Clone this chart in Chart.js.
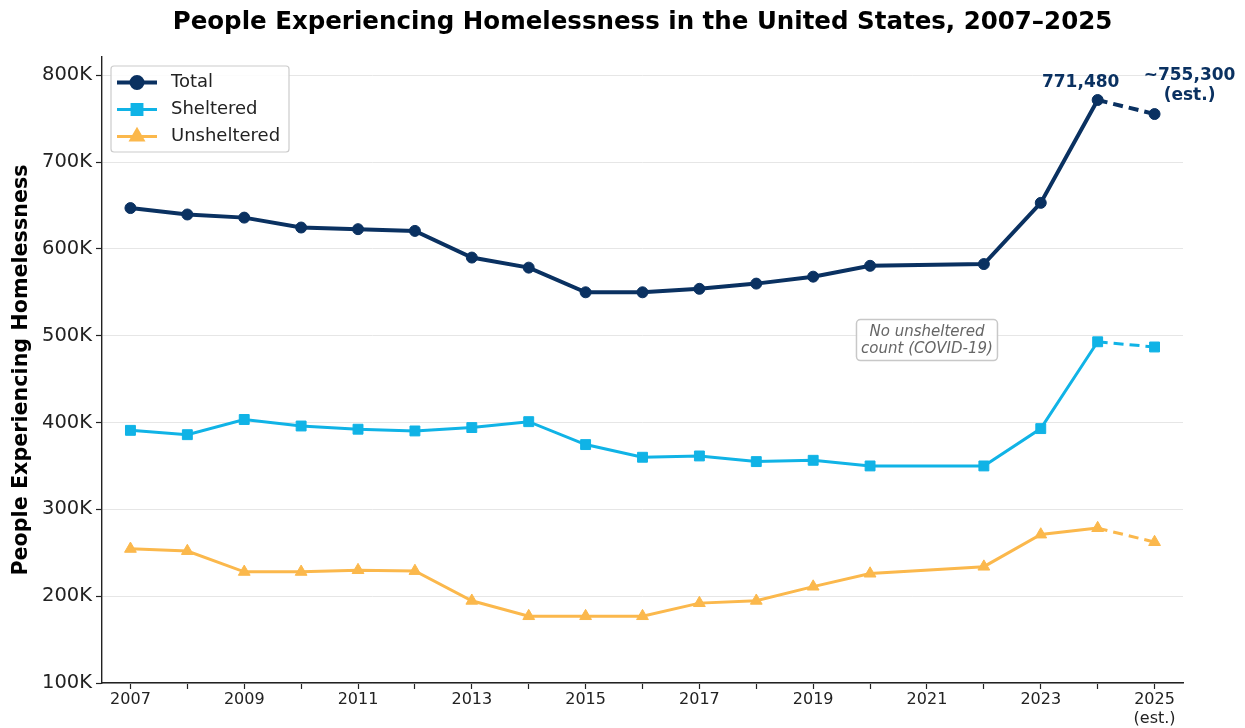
<!DOCTYPE html>
<html>
<head>
<meta charset="utf-8">
<script src="https://cdn.jsdelivr.net/npm/chart.js@4/dist/chart.umd.min.js"></script>
<style>
  html, body { margin: 0; padding: 0; background: #fff; }
  #wrap { width: 1245px; height: 728px; }
</style>
</head>
<body>
<div id="wrap"><canvas id="chart" width="1245" height="728"></canvas></div>
<script>
// dados (2021 sem contagem)
const years = ['2007', '2008', '2009', '2010', '2011', '2012', '2013', '2014', '2015', '2016',
  '2017', '2018', '2019', '2020', '2021', '2022', '2023', '2024', '2025'];
const totalValues = [647000, 639600, 636000, 624600, 622700, 620700, 590000, 578400, 550000, 550000,
  554000, 560000, 568000, 580500, null, 582500, 653000, 771480, 755300];
const shelteredValues = [391000, 386000, 403500, 396000, 392300, 390300, 394200, 401000, 374600, 360000,
  361500, 355000, 356500, 350000, null, 350000, 393000, 493000, 487000];
const unshelteredValues = [254500, 252000, 228000, 228000, 230000, 229000, 194700, 177000, 177000, 177000,
  192000, 194700, 211000, 226000, null, 234000, 271000, 278400, 262300];
const yTicks = [100000, 200000, 300000, 400000, 500000, 600000, 700000, 800000];

const FONT = "'DejaVu Sans', sans-serif";
const NAVY = '#0a3161';
const BLUE = '#10b3e6';
const ORANGE = '#fbb84c';
const EST_INDEX = 17; // segmento 2024 -> 2025 tracejado

function dashed(ctx) {
  return ctx.p0DataIndex === EST_INDEX ? [10, 6] : undefined;
}

function makeSeries(label, data, color, style, radius, width) {
  return {
    label,
    data,
    borderColor: color,
    backgroundColor: color,
    borderWidth: width,
    pointStyle: style,
    pointRadius: radius,
    pointHoverRadius: radius,
    pointBorderWidth: 1,
    pointBackgroundColor: color,
    pointBorderColor: color,
    spanGaps: true,
    tension: 0,
    segment: { borderDash: dashed },
  };
}

const overlay = {
  id: 'overlay',
  afterDraw(chart) {
    const { ctx } = chart;
    const x = chart.scales.x;
    const y = chart.scales.y;

    // anotação COVID
    const cx = x.getPixelForValue(14);
    const cy = y.getPixelForValue(495000);
    ctx.save();
    ctx.font = 'italic 15px ' + FONT;
    const w = 141, h = 41;
    ctx.beginPath();
    ctx.roundRect(cx - w / 2, cy - h / 2, w, h, 4);
    ctx.fillStyle = 'rgba(255,255,255,0.9)';
    ctx.fill();
    ctx.strokeStyle = '#c8c8c8';
    ctx.lineWidth = 1.5;
    ctx.stroke();
    ctx.fillStyle = '#666';
    ctx.textAlign = 'center';
    ctx.textBaseline = 'middle';
    ctx.fillText('No unsheltered', cx, cy - 8);
    ctx.fillText('count (COVID-19)', cx, cy + 9);
    ctx.restore();

    // rótulos dos valores finais
    const pts = chart.getDatasetMeta(0).data;
    const p24 = pts[EST_INDEX];
    const p25 = pts[EST_INDEX + 1];
    ctx.save();
    ctx.font = 'bold 17px ' + FONT;
    ctx.fillStyle = NAVY;
    ctx.textAlign = 'center';
    ctx.textBaseline = 'middle';
    ctx.fillText('771,480', p24.x - 17, p24.y - 17);
    ctx.fillText('~755,300', p25.x + 35, p25.y - 38);
    ctx.fillText('(est.)', p25.x + 35, p25.y - 18);
    ctx.restore();

    // legenda
    const area = chart.chartArea;
    const lx = area.left + 9, ly = area.top + 9;
    ctx.save();
    ctx.beginPath();
    ctx.roundRect(lx, ly, 178, 86, 3);
    ctx.fillStyle = 'rgba(255,255,255,0.85)';
    ctx.fill();
    ctx.strokeStyle = '#cccccc';
    ctx.lineWidth = 1.2;
    ctx.stroke();
    chart.data.datasets.forEach((ds, i) => {
      const rowY = ly + 16.5 + i * 27;
      ctx.beginPath();
      ctx.moveTo(lx + 6, rowY);
      ctx.lineTo(lx + 46, rowY);
      ctx.strokeStyle = ds.borderColor;
      ctx.lineWidth = ds.borderWidth;
      ctx.stroke();
      ctx.fillStyle = ds.borderColor;
      Chart.helpers.drawPoint(ctx, {
        pointStyle: ds.pointStyle,
        radius: ds.pointRadius,
        borderWidth: 1,
      }, lx + 26, rowY);
      ctx.fill();
      ctx.fillStyle = '#222';
      ctx.font = '18px ' + FONT;
      ctx.textAlign = 'left';
      ctx.textBaseline = 'middle';
      ctx.fillText(ds.label, lx + 60, rowY);
    });
    ctx.restore();
  },
};

new Chart(document.getElementById('chart'), {
  type: 'line',
  data: {
    labels: years,
    datasets: [
      makeSeries('Total', totalValues, NAVY, 'circle', 5.5, 4),
      makeSeries('Sheltered', shelteredValues, BLUE, 'rect', 7, 3),
      makeSeries('Unsheltered', unshelteredValues, ORANGE, 'triangle', 6.8, 3),
    ],
  },
  options: {
    responsive: false,
    animation: false,
    layout: { padding: { left: 0, right: 62, top: 0, bottom: 0 } },
    plugins: {
      legend: { display: false },
      tooltip: { enabled: false },
      title: {
        display: true,
        fullSize: false, // centraliza sobre a área do gráfico
        text: 'People Experiencing Homelessness in the United States, 2007–2025',
        color: '#000',
        font: { family: FONT, size: 24.5, weight: 'bold', lineHeight: 1.2 },
        padding: { top: 8, bottom: 19.6 },
      },
    },
    scales: {
      x: {
        type: 'category',
        offset: true,
        afterFit(scale) { scale.height = 45; },
        grid: {
          offset: false,
          drawOnChartArea: false,
          drawTicks: true,
          tickLength: 6,
          tickColor: '#222',
          tickWidth: 1.2,
        },
        border: { color: '#222', width: 1.4 },
        ticks: {
          autoSkip: false,
          maxRotation: 0,
          padding: 2,
          color: '#222',
          font: { family: FONT, size: 16, lineHeight: 1.15 },
          callback(value, index) {
            const yr = Number(years[index]);
            if (yr === 2025) return ['2025', '(est.)'];
            return yr % 2 === 1 ? String(yr) : '';
          },
        },
      },
      y: {
        min: 100000,
        max: 821000,
        afterFit(scale) { scale.width = 102; },
        afterBuildTicks(scale) { scale.ticks = yTicks.map(v => ({ value: v })); },
        grid: {
          color: '#e6e6e6',
          lineWidth: 1,
          tickLength: 6,
          tickColor: '#222',
          tickWidth: 1.2,
        },
        border: { color: '#222', width: 1.4 },
        ticks: {
          padding: 4,
          color: '#222',
          font: { family: FONT, size: 19.5 },
          callback: v => (v / 1000) + 'K',
        },
        title: {
          display: true,
          text: 'People Experiencing Homelessness',
          color: '#000',
          font: { family: FONT, size: 20.7, weight: 'bold', lineHeight: 1.2 },
          padding: { top: 9.6, bottom: 0 },
        },
      },
    },
  },
  plugins: [overlay],
});
</script>
</body>
</html>
